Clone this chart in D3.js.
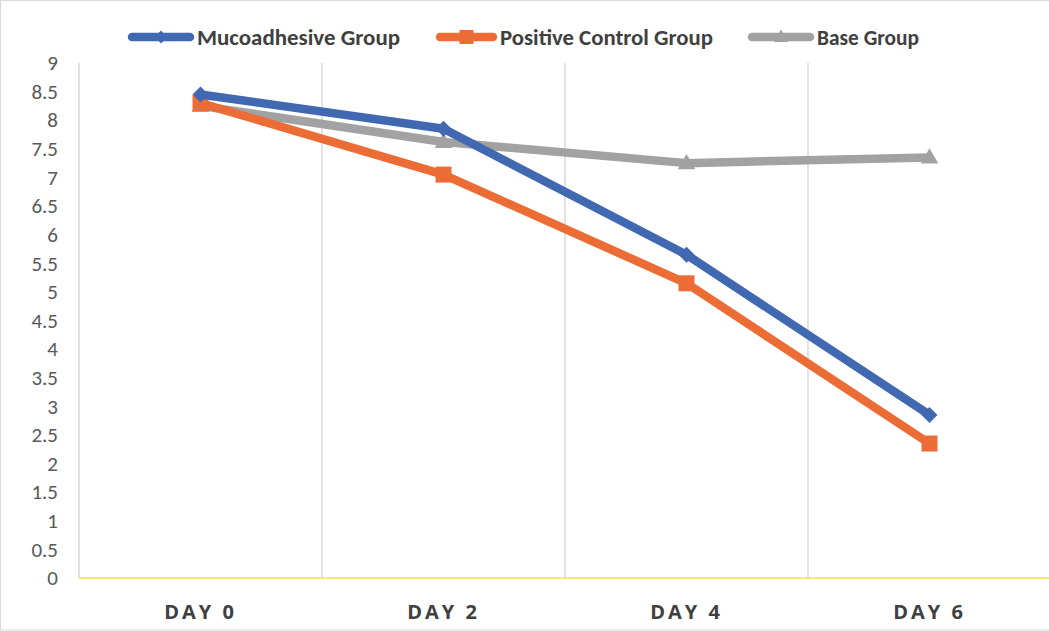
<!DOCTYPE html>
<html><head><meta charset="utf-8">
<script src="https://cdn.jsdelivr.net/npm/d3@7/dist/d3.min.js"></script>
<style>body{margin:0;background:#fff;}svg{display:block;}</style>
</head><body>
<svg id="c" width="1049" height="631"></svg>
<script>
const categories = ["DAY 0", "DAY 2", "DAY 4", "DAY 6"];
const mucoadhesive = [8.45, 7.85, 5.65, 2.85];
const positiveControl = [8.3, 7.05, 5.15, 2.35];
const baseGroup = [8.25, 7.62, 7.25, 7.35];
const yTicks = [0,0.5,1,1.5,2,2.5,3,3.5,4,4.5,5,5.5,6,6.5,7,7.5,8,8.5,9];
const seriesNames = ["Mucoadhesive Group", "Positive Control Group", "Base Group"];

const series = [
  {name: seriesNames[0], values: mucoadhesive, color: "#4169B2", marker: "diamond"},
  {name: seriesNames[1], values: positiveControl, color: "#EB6D35", marker: "square"},
  {name: seriesNames[2], values: baseGroup, color: "#A2A2A2", marker: "triangle"}
];

const svg = d3.select("#c");
const W = 1049, H = 631;
const mLeft = 79, mRight = 1051, mTop = 63, mBottom = 578;

svg.append("rect").attr("x",0.5).attr("y",0.5).attr("width",W+2).attr("height",H-1.5)
  .attr("fill","none").attr("stroke","#d9d9d9").attr("stroke-width",1);

const x = d3.scaleBand().domain(categories).range([mLeft, mRight]);
const y = d3.scaleLinear().domain([0,9]).range([mBottom, mTop]);

const bounds = categories.map(c => x(c));
svg.append("g").selectAll("line").data(bounds).join("line")
  .attr("x1", d=>d).attr("x2", d=>d).attr("y1", mTop).attr("y2", mBottom)
  .attr("stroke", "#d9d9d9").attr("stroke-width", 1.5);

svg.append("line").attr("x1", mLeft).attr("x2", mRight).attr("y1", y(0)).attr("y2", y(0))
  .attr("stroke", "#F5E43A").attr("stroke-width", 1.5);

const yAxis = d3.axisLeft(y).tickValues(yTicks).tickSize(0).tickPadding(0).tickFormat(d3.format("~g"));
const gy = svg.append("g").attr("transform", `translate(58,0)`).call(yAxis);
gy.select(".domain").remove();
gy.selectAll("text").attr("font-family","Carlito, Calibri, Lato, 'Open Sans', sans-serif")
  .attr("font-size", 21).attr("fill", "#595959");

const xAxis = d3.axisBottom(x).tickSize(0).tickPadding(0);
const gx = svg.append("g").attr("transform", `translate(0,${mBottom+41})`).call(xAxis);
gx.select(".domain").remove();
gx.selectAll("text").attr("font-family","'Open Sans', 'DejaVu Sans', sans-serif")
  .attr("font-size", 20).attr("font-weight", "bold").attr("fill", "#404040")
  .attr("letter-spacing", "3px").attr("dy", 0);

const cx = c => x(c) + x.bandwidth()/2;
const line = d3.line().x((d,i)=>cx(categories[i])).y(d=>y(d));

function drawMarker(g, type, px, py, color, s) {
  if (type === "diamond") {
    g.append("path").attr("d", `M${px},${py-s}L${px+s},${py}L${px},${py+s}L${px-s},${py}Z`).attr("fill", color);
  } else if (type === "square") {
    g.append("rect").attr("x", px-s).attr("y", py-s).attr("width", 2*s).attr("height", 2*s).attr("fill", color);
  } else {
    g.append("path").attr("d", `M${px},${py-s*1.15}L${px+s*1.1},${py+s*0.75}L${px-s*1.1},${py+s*0.75}Z`).attr("fill", color);
  }
}

const gLines = svg.append("g");
series.slice().reverse().forEach(s => {
  gLines.append("path").datum(s.values).attr("d", line).attr("fill","none")
    .attr("stroke", s.color).attr("stroke-width", 8.5).attr("stroke-linejoin","round");
  s.values.forEach((v,i) => drawMarker(gLines, s.marker, cx(categories[i]), y(v), s.color, 8));
});

const legendX = [132, 440, 752];
const legendTextX = [197, 500, 817];
const textLen = [203, 213, 102];
const legend = svg.append("g");
series.forEach((s,i) => {
  const lx = legendX[i], ly = 37;
  legend.append("line").attr("x1", lx).attr("x2", legendTextX[i]-7).attr("y1", ly).attr("y2", ly)
    .attr("stroke", s.color).attr("stroke-width", 8.5).attr("stroke-linecap","round");
  drawMarker(legend, s.marker, (lx + legendTextX[i]-7)/2, ly, s.color, s.marker==="square"?7:6.5);
  legend.append("text").attr("x", legendTextX[i]).attr("y", ly+8).text(s.name)
    .attr("font-family","Carlito, Calibri, Lato, 'Open Sans', sans-serif")
    .attr("font-size", 23).attr("font-weight","bold").attr("fill","#404040")
    .attr("textLength", textLen[i]).attr("lengthAdjust", "spacingAndGlyphs");
});
</script>
</body></html>
